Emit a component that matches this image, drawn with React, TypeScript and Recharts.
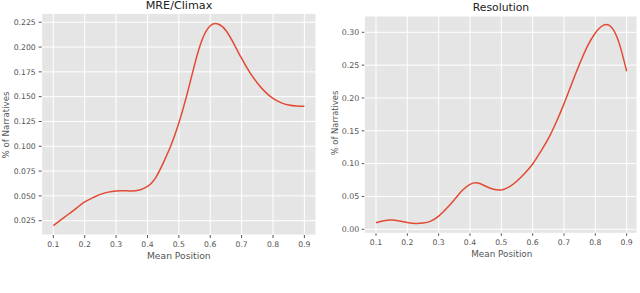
import React from 'react';
import { LineChart, Line, XAxis, YAxis, CartesianGrid } from 'recharts';

// ---- data ----
const xTicks = [0.1, 0.2, 0.3, 0.4, 0.5, 0.6, 0.7, 0.8, 0.9];

// sampled mean positions (every 0.025)
const positions = [0.1, 0.125, 0.15, 0.175, 0.2, 0.225, 0.25, 0.275, 0.3, 0.325, 0.35, 0.375, 0.4, 0.425, 0.45, 0.475, 0.5, 0.525, 0.55, 0.575, 0.6, 0.625, 0.65, 0.675, 0.7, 0.725, 0.75, 0.775, 0.8, 0.825, 0.85, 0.875, 0.9];

const mreY = [0.020, 0.026, 0.032, 0.038, 0.044, 0.048, 0.0515, 0.0538, 0.055, 0.0552, 0.0549, 0.056, 0.0595, 0.0677, 0.083, 0.101, 0.1235, 0.151, 0.182, 0.208, 0.2215, 0.2232, 0.2167, 0.2035, 0.1885, 0.175, 0.1638, 0.1548, 0.1482, 0.144, 0.1415, 0.1405, 0.1403];
const mreYTicks = [0.025, 0.05, 0.075, 0.1, 0.125, 0.15, 0.175, 0.2, 0.225];

const resY = [0.010, 0.013, 0.014, 0.0125, 0.0105, 0.009, 0.0095, 0.0125, 0.020, 0.0315, 0.045, 0.059, 0.0685, 0.0705, 0.0655, 0.061, 0.060, 0.0645, 0.0735, 0.0855, 0.0995, 0.118, 0.138, 0.163, 0.191, 0.222, 0.252, 0.279, 0.299, 0.3105, 0.3085, 0.285, 0.2406];
const resYTicks = [0, 0.05, 0.1, 0.15, 0.2, 0.25, 0.3];

const titles = ['MRE/Climax', 'Resolution'];
const xLabel = 'Mean Position';
const yLabel = '% of Narratives';

const mreData = positions.map((x, i) => ({ x, y: mreY[i] }));
const resData = positions.map((x, i) => ({ x, y: resY[i] }));

const FONT = '"DejaVu Sans", sans-serif';
const RED = '#E24A33';
const GRAY = '#555555';

export default function App() {
  return (
    <div style={{ position: 'absolute', left: 0, top: 0, width: 640, height: 293, overflow: 'hidden', background: '#fff', fontFamily: FONT }}>
      <div style={{ position: 'absolute', left: 0, top: 0 }}>
        <LineChart width={320} height={293} data={mreData} margin={{ top: 13.3, right: 4, left: 0, bottom: 28 }}>
          <CartesianGrid fill="#E5E5E5" stroke="#ffffff" strokeWidth={1} vertical horizontal />
          <XAxis dataKey="x" type="number" domain={[0.063, 0.937]} ticks={xTicks} allowDataOverflow
            tickFormatter={(v: number) => v.toFixed(1)} axisLine={false} tickSize={3} tickMargin={3.3}
            tickLine={{ stroke: GRAY }} tick={{ fill: GRAY, fontSize: 7.7, fontFamily: FONT }} height={30} />
          <YAxis type="number" domain={[0.0106, 0.234]} ticks={mreYTicks} allowDataOverflow
            tickFormatter={(v: number) => v.toFixed(3)} axisLine={false} tickSize={3} tickMargin={3}
            tickLine={{ stroke: GRAY }} tick={{ fill: GRAY, fontSize: 7.7, fontFamily: FONT }} width={41.7} />
          <Line dataKey="y" type="natural" stroke={RED} strokeWidth={1.5} dot={false} isAnimationActive={false} />
        </LineChart>
      </div>
      <div style={{ position: 'absolute', left: 320, top: 0 }}>
        <LineChart width={320} height={293} data={resData} margin={{ top: 16, right: 3, left: 0, bottom: 29.7 }}>
          <CartesianGrid fill="#E5E5E5" stroke="#ffffff" strokeWidth={1} vertical horizontal />
          <XAxis dataKey="x" type="number" domain={[0.0627, 0.933]} ticks={xTicks} allowDataOverflow
            tickFormatter={(v: number) => v.toFixed(1)} axisLine={false} tickSize={2.5} tickMargin={3.5}
            tickLine={{ stroke: GRAY }} tick={{ fill: GRAY, fontSize: 7.7, fontFamily: FONT }} height={30} />
          <YAxis type="number" domain={[-0.0061, 0.3248]} ticks={resYTicks} allowDataOverflow
            tickFormatter={(v: number) => v.toFixed(2)} axisLine={false} tickSize={2.5} tickMargin={2.5}
            tickLine={{ stroke: GRAY }} tick={{ fill: GRAY, fontSize: 7.9, fontFamily: FONT }} width={44.3} />
          <Line dataKey="y" type="natural" stroke={RED} strokeWidth={1.5} dot={false} isAnimationActive={false} />
        </LineChart>
      </div>
      <svg width={640} height={293} style={{ position: 'absolute', left: 0, top: 0, pointerEvents: 'none' }}>
        <text x={179} y={9.4} textAnchor="middle" fontSize={11.2} fill="#222" fontFamily={FONT}>{titles[0]}</text>
        <text x={501} y={11} textAnchor="middle" fontSize={10.8} fill="#222" fontFamily={FONT}>{titles[1]}</text>
        <text x={178.8} y={258.8} textAnchor="middle" fontSize={9.2} fill={GRAY} fontFamily={FONT}>{xLabel}</text>
        <text x={501.8} y={256.6} textAnchor="middle" fontSize={8.8} fill={GRAY} fontFamily={FONT}>{xLabel}</text>
        <text transform="translate(8.6,125) rotate(-90)" textAnchor="middle" fontSize={8.7} fill={GRAY} fontFamily={FONT}>{yLabel}</text>
        <text transform="translate(337.5,123) rotate(-90)" textAnchor="middle" fontSize={8.4} fill={GRAY} fontFamily={FONT}>{yLabel}</text>
      </svg>
    </div>
  );
}
